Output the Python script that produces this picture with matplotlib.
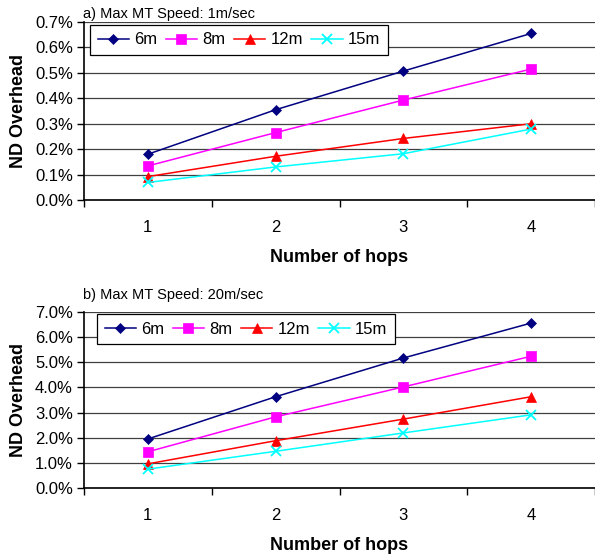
import numpy as np
import matplotlib.pyplot as plt
from matplotlib.ticker import FuncFormatter, FixedLocator

plt.rcParams['font.family'] = ['Liberation Sans', 'DejaVu Sans']

hops = [1, 2, 3, 4]
hop_labels = ["1", "2", "3", "4"]
series_names = ["6m", "8m", "12m", "15m"]

# a) max MT speed 1 m/sec (percent)
slow_6m = [0.18, 0.355, 0.507, 0.655]
slow_8m = [0.134, 0.265, 0.393, 0.515]
slow_12m = [0.092, 0.172, 0.242, 0.300]
slow_15m = [0.069, 0.130, 0.182, 0.279]

# b) max MT speed 20 m/sec (percent)
fast_6m = [1.95, 3.63, 5.17, 6.56]
fast_8m = [1.44, 2.83, 4.02, 5.24]
fast_12m = [0.96, 1.88, 2.74, 3.63]
fast_15m = [0.75, 1.46, 2.19, 2.91]

colors = ["#000080", "#FF00FF", "#FF0000", "#00FFFF"]
markers = ["D", "s", "^", "x"]
msizes = [5.5, 6.5, 7.5, 7.5]

W, H = 595, 557
fig = plt.figure(figsize=(W / 100, H / 100), dpi=100)
ax1 = fig.add_axes([84 / W, 1 - 200 / H, 511 / W, 178 / H])
ax2 = fig.add_axes([84 / W, 1 - 488 / H, 511 / W, 176 / H])


def draw(ax, data, ymax, step, title, title_off, leg_xy):
    for vals, name, c, m, ms in zip(data, series_names, colors, markers, msizes):
        ax.plot(hops, vals, color=c, marker=m, markersize=ms, lw=1.1,
                markeredgewidth=1.3 if m == "x" else 0.5, label=name)
    ax.set_xlim(0.5, 4.5)
    ax.set_ylim(0, ymax)
    ax.set_yticks(np.arange(0, ymax + step / 2, step))
    ax.yaxis.set_major_formatter(FuncFormatter(lambda v, p: "%.1f%%" % v))
    ax.xaxis.set_major_locator(FixedLocator([0.5, 1.5, 2.5, 3.5, 4.5]))
    ax.xaxis.set_minor_locator(FixedLocator(hops))
    ax.set_xticklabels([])
    ax.set_xticklabels(hop_labels, minor=True)
    ax.tick_params(axis="x", which="major", direction="out", length=5, width=1)
    ax.tick_params(axis="x", which="minor", length=0, pad=14.5, labelsize=12)
    ax.tick_params(axis="y", direction="out", length=5, width=1, labelsize=12, pad=3)
    ax.grid(axis="y", color="#404040", lw=0.9)
    ax.set_axisbelow(True)
    for s in ["top", "right"]:
        ax.spines[s].set_visible(False)
    ax.spines["left"].set_linewidth(1.2)
    ax.spines["bottom"].set_linewidth(1.2)
    ax.set_xlabel("Number of hops", fontsize=13, fontweight="bold", labelpad=10)
    ax.set_ylabel("ND Overhead", fontsize=13, fontweight="bold", labelpad=6)
    ax.annotate(title, xy=(0, 1), xycoords="axes fraction",
                xytext=(-1, title_off), textcoords="offset points",
                fontsize=10.5, ha="left", va="center")
    leg = ax.legend(ncol=4, loc="upper left", fontsize=12, frameon=True,
                    fancybox=False, edgecolor="black", framealpha=1,
                    handlelength=1.9, handletextpad=0.3, columnspacing=0.5,
                    borderpad=0.45, borderaxespad=0,
                    bbox_to_anchor=(leg_xy[0] / W, 1 - leg_xy[1] / H),
                    bbox_transform=fig.transFigure)
    leg.get_frame().set_linewidth(0.9)


draw(ax1, [slow_6m, slow_8m, slow_12m, slow_15m], 0.7, 0.1,
     "a) Max MT Speed: 1m/sec", 5.5, (90, 25))
draw(ax2, [fast_6m, fast_8m, fast_12m, fast_15m], 7.0, 1.0,
     "b) Max MT Speed: 20m/sec", 12, (97, 314))

fig.savefig("out.png", dpi=100)
